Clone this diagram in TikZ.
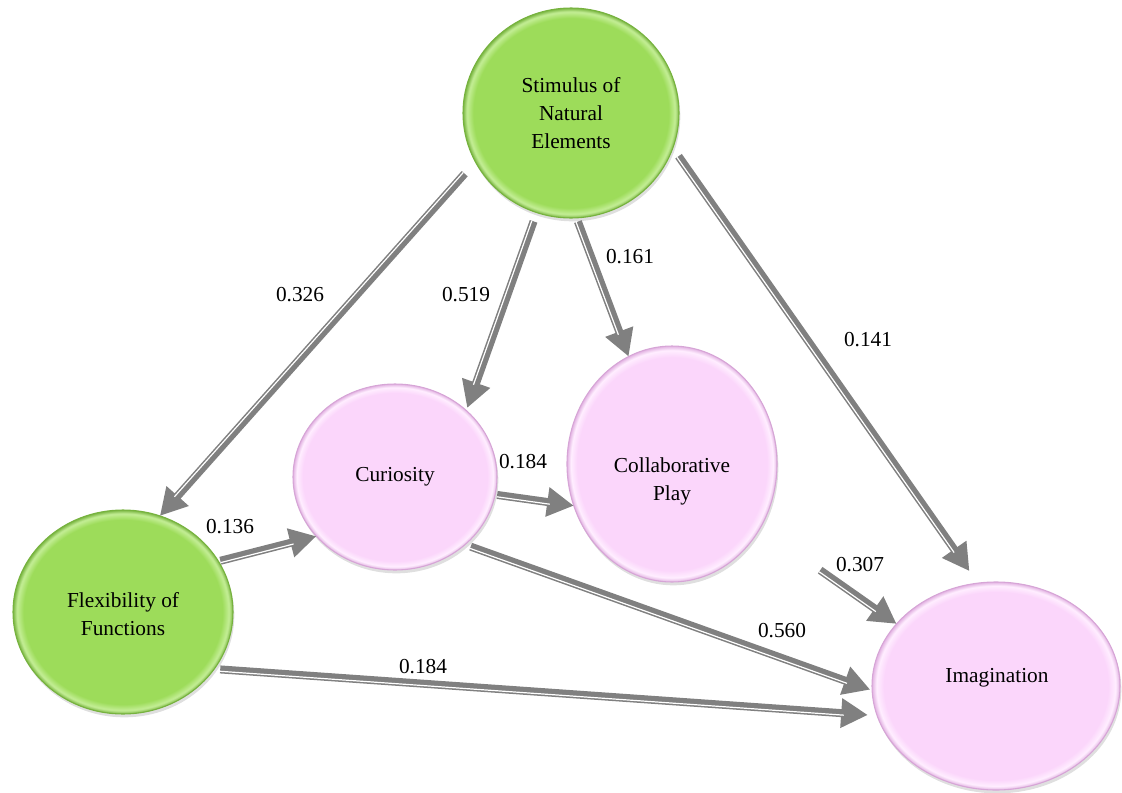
\documentclass[tikz,border=0pt]{standalone}
\usepackage{fontspec}
\setmainfont{Liberation Serif}
\usetikzlibrary{arrows.meta,shapes.geometric,shadows,calc}
\definecolor{ngreen}{RGB}{157,220,90}
\definecolor{ngreenlite}{RGB}{196,238,150}
\definecolor{ngreendark}{RGB}{122,182,66}
\definecolor{ngreenedge}{RGB}{118,178,62}
\definecolor{npink}{RGB}{251,214,251}
\definecolor{npinklite}{RGB}{255,238,255}
\definecolor{npinkdark}{RGB}{226,178,226}
\definecolor{npinkedge}{RGB}{214,165,214}
\definecolor{arrgray}{RGB}{128,128,128}
\pgfdeclareradialshading{gbevel}{\pgfpoint{0bp}{0bp}}{color(0bp)=(ngreen); color(22.6bp)=(ngreen); color(24.1bp)=(ngreenlite); color(25bp)=(ngreendark); color(50bp)=(ngreendark)}
\pgfdeclareradialshading{pbevel}{\pgfpoint{0bp}{0bp}}{color(0bp)=(npink); color(22.6bp)=(npink); color(24.1bp)=(npinklite); color(25bp)=(npinkdark); color(50bp)=(npinkdark)}
\tikzset{
  bubble/.style={ellipse, inner sep=0pt, outer sep=0pt, line width=0.8pt,
    drop shadow={shadow xshift=1pt, shadow yshift=-2.5pt, opacity=0.25}},
  gbubble/.style={bubble, shading=gbevel, draw=ngreenedge},
  pbubble/.style={bubble, shading=pbevel, draw=npinkedge},
  ntext/.style={align=center, font=\fontsize{16}{21}\selectfont, inner sep=0pt},
  wlabel/.style={font=\fontsize{16}{19}\selectfont, inner sep=0pt},
  conmain/.style={draw=arrgray, line width=6pt, -{Triangle[length=20pt,width=21pt]}},
  constripe/.style={draw=white, line width=0.9pt},
}
% \pathconn{start}{end}{shorten start}{shorten end}
\newcommand\pathconn[4]{%
  \draw[conmain, shorten <=#3, shorten >=#4] (#1) -- (#2);
  \draw[constripe, shorten <=#3, shorten >=#4+18pt]
    ($(#1)!1.4pt!-90:(#2)$) -- ($(#2)!1.4pt!90:(#1)$);
}
\begin{document}
\begin{tikzpicture}[x=0.75pt,y=-0.75pt]
\useasboundingbox (0,0) rectangle (1122,793);
% nodes
\node[gbubble, minimum width=162pt, minimum height=157.5pt] (stim) at (571,113) {};
\node[pbubble, minimum width=153pt, minimum height=139.5pt] (cur) at (395,477) {};
\node[pbubble, minimum width=157.5pt, minimum height=177pt] (col) at (672,464) {};
\node[gbubble, minimum width=165pt, minimum height=153pt] (flex) at (123,612) {};
\node[pbubble, minimum width=186pt, minimum height=156pt] (ima) at (996,686) {};
% texts
\node[ntext] (stimt) at (571,113) {Stimulus of\\Natural\\Elements};
\node[ntext] (curt) at (395,477) {Curiosity};
\node[ntext] (colt) at (672,481) {Collaborative\\Play};
\node[ntext] (flext) at (123,614) {Flexibility of\\Functions};
\node[ntext] (imat) at (997,678) {Imagination};
% connectors
\pathconn{stim.207.6}{flex.69}{12pt}{0pt}
\pathconn{stim.251.7}{cur.43.8}{7pt}{2pt}
\pathconn{stim.273.7}{col.112.9}{3pt}{0pt}
\pathconn{stim.341.7}{ima.100.1}{7.5pt}{11pt}
\pathconn{flex.28.2}{cur.217.9}{1.5pt}{0pt}
\pathconn{cur.350.5}{col.203.8}{1.5pt}{0pt}
\pathconn{cur.316.6}{ima.182.7}{4.5pt}{1.5pt}
\pathconn{col.324.4}{ima.148.1}{55pt}{0pt}
\pathconn{flex.328.3}{ima.194}{4.5pt}{7pt}
% labels
\node[wlabel] (l1) at (300,295) {0.326};
\node[wlabel] (l2) at (466,295) {0.519};
\node[wlabel] (l3) at (630,257) {0.161};
\node[wlabel] (l4) at (868,340) {0.141};
\node[wlabel] (l5) at (230,527) {0.136};
\node[wlabel] (l6) at (523,462) {0.184};
\node[wlabel] (l7) at (782,631) {0.560};
\node[wlabel] (l8) at (860,565) {0.307};
\node[wlabel] (l9) at (423,667) {0.184};
\end{tikzpicture}
\end{document}
